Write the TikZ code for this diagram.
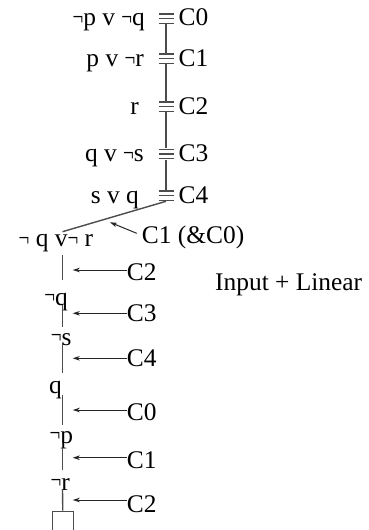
\documentclass[tikz,border=0pt]{standalone}
\usepackage{fontspec}
\usepackage{graphicx}
\setmainfont{Liberation Serif}
\usetikzlibrary{arrows.meta}
\newcommand{\nt}{\scalebox{0.75}[1]{¬}}
\newcommand{\ntup}{\raisebox{1.5pt}{\scalebox{0.75}[1]{¬}}}
\begin{document}
\begin{tikzpicture}[x=1pt,y=-1pt,
  font=\fontsize{25.4pt}{30pt}\selectfont,
  chain/.style={line width=1.4pt, black!70},
  arr/.style={line width=1pt, black!85, -{Stealth[length=7pt,width=4.5pt,inset=2pt]}},
  txt/.style={inner sep=0pt, anchor=base east},
  lab/.style={inner sep=0pt, anchor=base west},
  equiv/.style={inner sep=0pt, minimum width=17pt, minimum height=10.8pt,
    path picture={\foreach \d in {-4.7,0,4.7}
      \draw[chain] ([xshift=-7.5pt,yshift=\d pt]path picture bounding box.center) -- ++(15,0);}},
]
\path[use as bounding box] (0,0) rectangle (368,530);
\clip (0,0) rectangle (368,530);

% top chain
\node[equiv] (e0) at (166,18.7) {};
\node[equiv] (e1) at (166,58.7) {};
\node[equiv] (e2) at (166,106.7) {};
\node[equiv] (e3) at (166,154) {};
\node[equiv] (e4) at (166,195.7) {};

\node[lab] (c0) at (178.5,25) {C0};
\node[lab] (c1) at (178.5,66.7) {C1};
\node[lab] (c2) at (178.5,114.3) {C2};
\node[lab] (c3) at (178.5,161.7) {C3};
\node[lab] (c4) at (178.5,203.3) {C4};

\node[txt] (f0) at (145,25) {\nt p v \nt q};
\node[txt] (f1) at (144,66.7) {p v \nt r};
\node[txt] (f2) at (139,114.3) {r};
\node[txt] (f3) at (144,161.7) {q v \nt s};
\node[txt] (f4) at (139,203.3) {s v q};

\draw[chain] (e0.south) -- (e1.north);
\draw[chain] (e1.south) -- (e2.north);
\draw[chain] (e2.south) -- (e3.north);
\draw[chain] (e3.south) -- (e4.north);

% lower chain
\coordinate (ax) at (62.5,0);
\node[txt] (t0) at (93.3,246) {\nt{} q v\nt{} r};
\node[txt] (t1) at (68,305) {\ntup q};
\node[txt] (t2) at (71.7,345) {\ntup s};
\node[txt] (t3) at (62,393.3) {q};
\node[txt] (t4) at (73.3,443.3) {\ntup p};
\node[txt] (t5) at (70,490) {\ntup r};
\node[draw, chain, inner sep=0pt, minimum width=21pt, minimum height=30pt, anchor=north] (box) at (62.8,510.5) {};

\draw[chain] (e4.south) -- ([yshift=14.3pt]t0.base -| ax);
\draw[chain] ([yshift=-9pt]t0.base -| ax) -- ([yshift=25pt]t1.base -| ax);
\draw[chain] ([yshift=0pt]t1.base -| ax) -- ([yshift=18.3pt]t2.base -| ax);
\draw[chain] ([yshift=2pt]t2.base -| ax) -- ([yshift=20pt]t3.base -| ax);
\draw[chain] ([yshift=-1.7pt]t3.base -| ax) -- ([yshift=18.3pt]t4.base -| ax);
\draw[chain] ([yshift=0pt]t4.base -| ax) -- ([yshift=20pt]t5.base -| ax);
\draw[chain] (t5.base -| ax) -- (box.north);

% arrows and labels
\node[lab] (l0) at (141.7,243) {C1 (\&C0)};
\draw[arr] ([shift={(-5pt,9.7pt)}]l0.base west) -- ++(-26.7,-11);

\node[lab] (m1) at (126.7,280) {C2};
\node[lab] (m2) at (126.7,321.7) {C3};
\node[lab] (m3) at (126.7,366.7) {C4};
\node[lab] (m4) at (126.7,420) {C0};
\node[lab] (m5) at (126.7,468.3) {C1};
\node[lab] (m6) at (126.7,512) {C2};
\draw[arr] ([yshift=10pt]m1.base west) -- ([yshift=10pt]m1.base west -| 72.7,0);
\draw[arr] ([yshift=8.4pt]m2.base west) -- ([yshift=8.4pt]m2.base west -| 72.7,0);
\draw[arr] ([yshift=8.4pt]m3.base west) -- ([yshift=8.4pt]m3.base west -| 72.7,0);
\draw[arr] ([yshift=10pt]m4.base west) -- ([yshift=10pt]m4.base west -| 72.7,0);
\draw[arr] ([yshift=10.6pt]m5.base west) -- ([yshift=10.6pt]m5.base west -| 72.7,0);
\draw[arr] ([yshift=12pt]m6.base west) -- ([yshift=12pt]m6.base west -| 72.7,0);

\node[lab] (il) at (215,290) {Input + Linear};
\end{tikzpicture}
\end{document}
